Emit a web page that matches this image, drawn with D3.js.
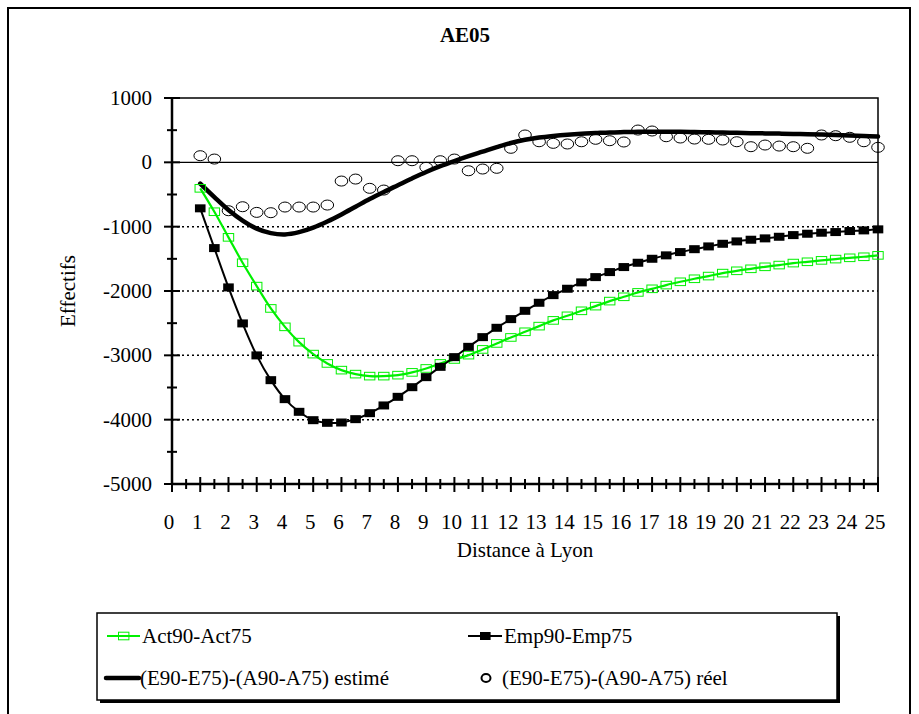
<!DOCTYPE html>
<html><head><meta charset="utf-8">
<script src="https://cdn.jsdelivr.net/npm/d3@7"></script>
<style>body{margin:0;background:#fff;overflow:hidden} text{font-family:"Liberation Serif","DejaVu Serif",serif}</style>
</head><body>
<script>
const title = "AE05";
const distances = [1,1.5,2,2.5,3,3.5,4,4.5,5,5.5,6,6.5,7,7.5,8,8.5,9,9.5,10,10.5,11,11.5,12,12.5,13,13.5,14,14.5,15,15.5,16,16.5,17,17.5,18,18.5,19,19.5,20,20.5,21,21.5,22,22.5,23,23.5,24,24.5,25];
const act = [-404,-768,-1166,-1561,-1924,-2271,-2557,-2795,-2981,-3126,-3230,-3292,-3323,-3323,-3308,-3265,-3204,-3126,-3064,-2997,-2908,-2815,-2722,-2634,-2546,-2457,-2386,-2308,-2235,-2157,-2090,-2022,-1966,-1908,-1857,-1810,-1768,-1722,-1686,-1655,-1624,-1597,-1566,-1546,-1524,-1504,-1484,-1468,-1446];
const emp = [-715,-1333,-1944,-2504,-3001,-3386,-3681,-3878,-4008,-4049,-4044,-3992,-3899,-3779,-3645,-3495,-3339,-3179,-3028,-2868,-2717,-2572,-2437,-2308,-2183,-2064,-1965,-1866,-1784,-1706,-1628,-1561,-1499,-1446,-1395,-1350,-1307,-1266,-1229,-1203,-1182,-1157,-1131,-1110,-1094,-1084,-1068,-1058,-1042];
const estime = [-330,-540,-740,-905,-1030,-1100,-1120,-1085,-1015,-920,-810,-690,-570,-460,-355,-250,-150,-60,20,95,165,235,300,350,385,410,430,445,455,465,470,474,476,476,475,470,466,462,458,454,450,447,442,437,432,425,418,410,400];
const reel = [103,51,-752,-690,-778,-783,-695,-695,-695,-664,-291,-260,-404,-431,25,25,-78,25,51,-131,-104,-93,218,425,320,295,285,320,358,336,316,502,487,398,378,362,358,347,320,243,269,253,243,218,425,414,389,320,233];
const xTickLabels = [0,1,2,3,4,5,6,7,8,9,10,11,12,13,14,15,16,17,18,19,20,21,22,23,24,25];
const xMinorTicks = [0.5,1.5,2.5,3.5,4.5,5.5,6.5,7.5,8.5,9.5,10.5,11.5,12.5,13.5,14.5,15.5,16.5,17.5,18.5,19.5,20.5,21.5,22.5,23.5,24.5];
const yTickLabels = [1000,0,-1000,-2000,-3000,-4000,-5000];
const yMinorTicks = [500,-500,-1500,-2500,-3500,-4500];
const gridDotted = [-1000,-2000,-3000,-4000];
const legendItems = ["Act90-Act75","Emp90-Emp75","(E90-E75)-(A90-A75) estimé","(E90-E75)-(A90-A75) réel"];

const W = 919, H = 714;
const FS = 21;
const svg = d3.select("body").append("svg").attr("width", W).attr("height", H);

// outer frame
svg.append("path").attr("d", `M8,${H+5} L8,8 L910,8 L910,${H+5}`)
  .attr("fill","none").attr("stroke","#000").attr("stroke-width",2);

svg.append("text").attr("x", 465).attr("y", 42).attr("text-anchor","middle")
  .attr("font-weight","bold").attr("font-size",FS).text(title);

const L = 172, R = 878, T = 98, B = 484;
const x = d3.scaleLinear().domain([0,25]).range([L,R]);
const y = d3.scaleLinear().domain([-5000,1000]).range([B,T]);

// dotted grid
svg.append("g").selectAll("line").data(gridDotted).join("line")
  .attr("x1", L).attr("x2", R).attr("y1", d=>y(d)).attr("y2", d=>y(d))
  .attr("stroke","#000").attr("stroke-width",1.5).attr("stroke-dasharray","2,3");
// zero line
svg.append("line").attr("x1",L).attr("x2",R).attr("y1",y(0)).attr("y2",y(0))
  .attr("stroke","#000").attr("stroke-width",1.2);
// plot frame top/right
svg.append("path").attr("d",`M${L},${T} L${R},${T} L${R},${B}`)
  .attr("fill","none").attr("stroke","#000").attr("stroke-width",1.5);

// axes
const gy = svg.append("g");
gy.append("line").attr("x1",L).attr("x2",L).attr("y1",T).attr("y2",B).attr("stroke","#000").attr("stroke-width",2.5);
gy.selectAll(".maj").data(yTickLabels).join("line").attr("class","maj")
  .attr("x1",L-8).attr("x2",L+8).attr("y1",d=>y(d)).attr("y2",d=>y(d)).attr("stroke","#000").attr("stroke-width",2);
gy.selectAll(".min").data(yMinorTicks).join("line").attr("class","min")
  .attr("x1",L-5).attr("x2",L+5).attr("y1",d=>y(d)).attr("y2",d=>y(d)).attr("stroke","#000").attr("stroke-width",2);
gy.selectAll("text").data(yTickLabels).join("text")
  .attr("x",152).attr("y",d=>y(d)+7).attr("text-anchor","end").attr("font-size",FS).text(d=>d);

const gx = svg.append("g");
gx.append("line").attr("x1",L).attr("x2",R).attr("y1",B).attr("y2",B).attr("stroke","#000").attr("stroke-width",2.5);
gx.selectAll(".maj").data(xTickLabels).join("line").attr("class","maj")
  .attr("x1",d=>x(d)).attr("x2",d=>x(d)).attr("y1",B-7).attr("y2",B+8).attr("stroke","#000").attr("stroke-width",2);
gx.selectAll(".min").data(xMinorTicks).join("line").attr("class","min")
  .attr("x1",d=>x(d)).attr("x2",d=>x(d)).attr("y1",B-5).attr("y2",B+5).attr("stroke","#000").attr("stroke-width",2);
gx.selectAll("text").data(xTickLabels).join("text")
  .attr("x",d=>x(d)-3).attr("y",529).attr("text-anchor","middle").attr("font-size",FS).text(d=>d);

svg.append("text").attr("x",(L+R)/2).attr("y",557).attr("text-anchor","middle").attr("font-size",FS).text("Distance à Lyon");
svg.append("text").attr("transform","translate(75,291) rotate(-90)").attr("text-anchor","middle").attr("font-size",FS).text("Effectifs");

const pts = arr => distances.map((d,i)=>[d,arr[i]]);
const line = d3.line().x(d=>x(d[0])).y(d=>y(d[1])).curve(d3.curveCatmullRom.alpha(0.5));

// réel circles
svg.append("g").selectAll("ellipse").data(pts(reel)).join("ellipse")
  .attr("cx",d=>x(d[0])).attr("cy",d=>y(d[1])).attr("rx",6.3).attr("ry",5)
  .attr("fill","none").attr("stroke","#000").attr("stroke-width",1);
// estimated thick curve
svg.append("path").datum(pts(estime)).attr("d",line).attr("fill","none")
  .attr("stroke","#000").attr("stroke-width",4.5).attr("stroke-linecap","round");
// act
const green = "#00f000";
svg.append("path").datum(pts(act)).attr("d",line).attr("fill","none").attr("stroke",green).attr("stroke-width",2.2);
svg.append("g").selectAll("rect").data(pts(act)).join("rect")
  .attr("x",d=>x(d[0])-5.2).attr("y",d=>y(d[1])-3.8).attr("width",10.4).attr("height",7.6)
  .attr("fill","none").attr("stroke",green).attr("stroke-width",1);
// emp
svg.append("path").datum(pts(emp)).attr("d",line).attr("fill","none").attr("stroke","#000").attr("stroke-width",2);
svg.append("g").selectAll("rect").data(pts(emp)).join("rect")
  .attr("x",d=>x(d[0])-5.3).attr("y",d=>y(d[1])-4).attr("width",10.6).attr("height",8)
  .attr("fill","#000");

// legend
const lg = svg.append("g");
lg.append("rect").attr("x",100).attr("y",616).attr("width",740).attr("height",87).attr("fill","#000");
lg.append("rect").attr("x",97).attr("y",613).attr("width",740).attr("height",87).attr("fill","#fff").attr("stroke","#000").attr("stroke-width",1.5);
const r1 = 636, r2 = 678;
// act sample
lg.append("line").attr("x1",107).attr("x2",140).attr("y1",r1).attr("y2",r1).attr("stroke",green).attr("stroke-width",2.2);
lg.append("rect").attr("x",118.5).attr("y",r1-3.8).attr("width",10.4).attr("height",7.6).attr("fill","none").attr("stroke",green);
lg.append("text").attr("x",142).attr("y",r1+7).attr("font-size",FS).text(legendItems[0]);
// emp sample
lg.append("line").attr("x1",468).attr("x2",502).attr("y1",r1).attr("y2",r1).attr("stroke","#000").attr("stroke-width",2);
lg.append("rect").attr("x",480).attr("y",r1-4).attr("width",10.6).attr("height",8).attr("fill","#000");
lg.append("text").attr("x",504).attr("y",r1+7).attr("font-size",FS).text(legendItems[1]);
// estime sample
lg.append("line").attr("x1",106).attr("x2",139).attr("y1",r2).attr("y2",r2).attr("stroke","#000").attr("stroke-width",4.5).attr("stroke-linecap","round");
lg.append("text").attr("x",140).attr("y",r2+7).attr("font-size",FS).text(legendItems[2]);
// reel sample
lg.append("ellipse").attr("cx",486).attr("cy",r2).attr("rx",4.5).attr("ry",4).attr("fill","none").attr("stroke","#000").attr("stroke-width",2);
lg.append("text").attr("x",502).attr("y",r2+7).attr("font-size",FS).text(legendItems[3]);
</script>
</body></html>
